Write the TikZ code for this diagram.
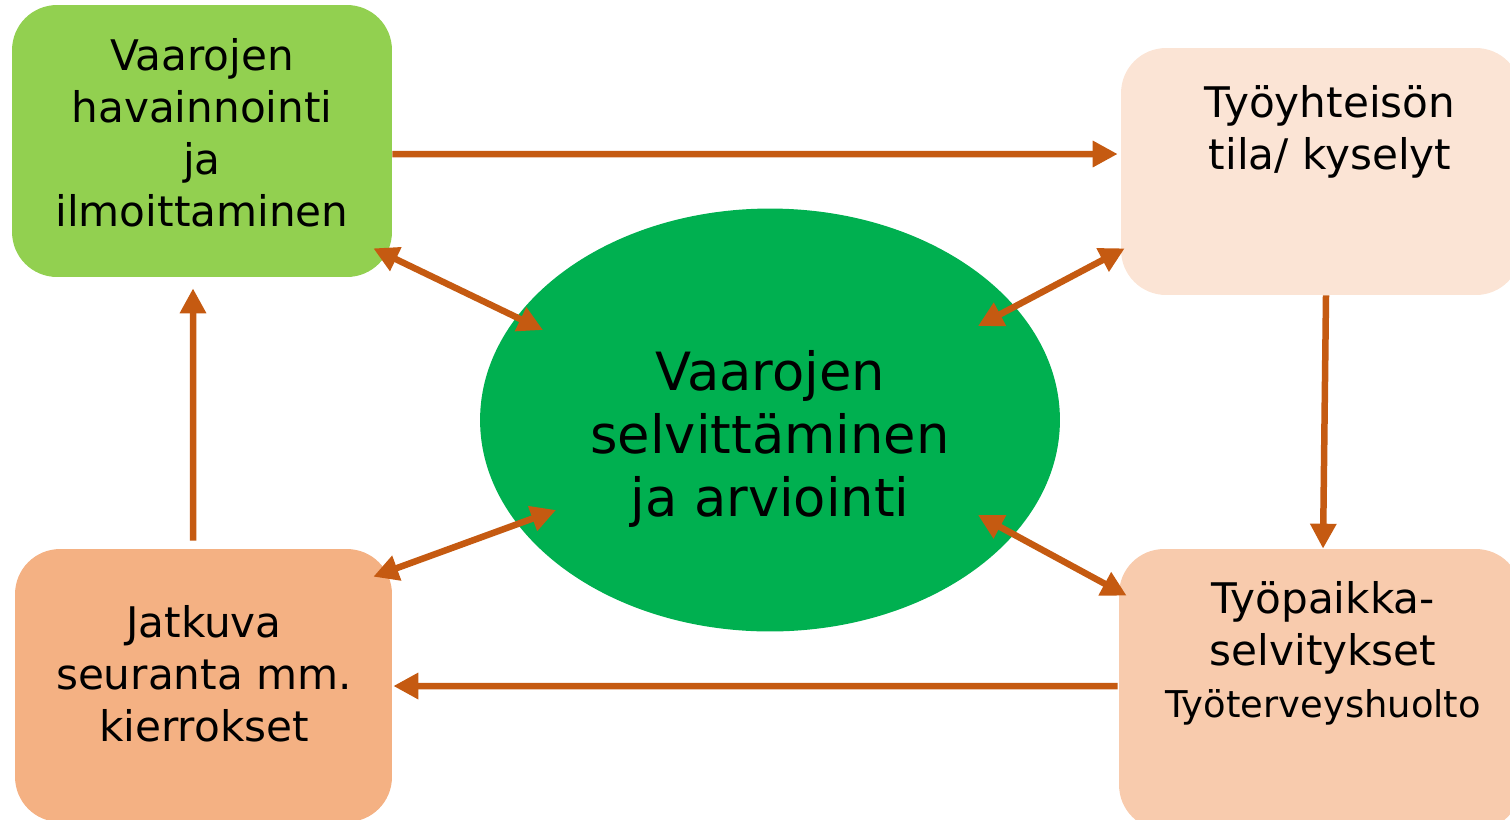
\documentclass[tikz,border=0pt]{standalone}
\usepackage{fontspec}
\setmainfont{DejaVu Sans}
\usetikzlibrary{arrows.meta,shapes.geometric}

\definecolor{nuoli}{HTML}{C55A11}
\definecolor{vihrea}{HTML}{92D050}
\definecolor{tummavihrea}{HTML}{00B050}
\definecolor{persikka}{HTML}{FBE4D5}
\definecolor{oranssi}{HTML}{F4B183}
\definecolor{vaalea}{HTML}{F8CBAD}

\tikzset{
    laatikko/.style={rectangle, rounded corners=0.9cm, inner sep=0pt},
    teksti/.style={align=center, font=\fontsize{24}{29.5}\selectfont},
    nuolet/.style={line width=0.13cm, nuoli, -{Triangle[length=0.5cm,width=0.5cm]}},
    kaksoisnuoli/.style={line width=0.13cm, nuoli, {Triangle[length=0.5cm,width=0.5cm]}-{Triangle[length=0.5cm,width=0.5cm]}}
}

\begin{document}
\begin{tikzpicture}[x=0.02cm, y=-0.02cm]
    \clip (0,0) rectangle (1510,819);

    % Boxes
    \node[laatikko, fill=vihrea, minimum width=7.6cm, minimum height=5.44cm] (havainto) at (202,141) {};
    \node[laatikko, fill=persikka, minimum width=8cm, minimum height=4.94cm] (tila) at (1321,171.5) {};
    \node[laatikko, fill=oranssi, minimum width=7.54cm, minimum height=5.46cm] (seuranta) at (203.5,685.5) {};
    \node[laatikko, fill=vaalea, minimum width=8.04cm, minimum height=5.62cm] (tyopaikka) at (1320,689.5) {};

    % Ellipse in the middle
    \node[ellipse, fill=tummavihrea, inner sep=0pt, minimum width=11.6cm, minimum height=8.46cm] (arvio) at (770,420) {};

    % Texts
    \node[teksti] (havaintoTeksti) at (202,133) {Vaarojen\\havainnointi\\ja\\ilmoittaminen};
    \node[teksti] (tilaTeksti) at (1330,132) {Työyhteisön\\tila/ kyselyt};
    \node[teksti] (seurantaTeksti) at (204,674) {Jatkuva\\seuranta mm.\\kierrokset};
    \node[teksti] (tyopaikkaTeksti) at (1323,653) {Työpaikka-\\selvitykset\\{\fontsize{21}{25}\selectfont Työterveyshuolto}};
    \node[align=center, font=\fontsize{30}{36}\selectfont] (arvioTeksti) at (770,439) {Vaarojen\\selvittäminen\\ja arviointi};

    % Cycle arrows
    \draw[nuolet] ([yshift=-0.26cm]havainto.east) -- ([yshift=0.35cm, xshift=-0.06cm]tila.west);
    \draw[nuolet] ([xshift=0.1cm]tila.south) -- ([xshift=0.06cm]tyopaikka.north);
    \draw[nuolet] ([yshift=0.07cm, xshift=-0.02cm]tyopaikka.west) -- ([yshift=-0.01cm, xshift=0.02cm]seuranta.east);
    \draw[nuolet] ([xshift=-0.21cm, yshift=0.16cm]seuranta.north) -- ([xshift=-0.18cm, yshift=-0.22cm]havainto.south);

    % Arrows to and from the ellipse
    \draw[kaksoisnuoli] ([shift={(-0.38cm,0.58cm)}]havainto.south east) -- ([shift={(-4.54cm,1.8cm)}]arvio.center);
    \draw[kaksoisnuoli] ([shift={(0.08cm,0.94cm)}]tila.south west) -- ([shift={(4.16cm,1.88cm)}]arvio.center);
    \draw[kaksoisnuoli] ([shift={(-0.38cm,-0.56cm)}]seuranta.north east) -- ([shift={(-4.28cm,-1.8cm)}]arvio.center);
    \draw[kaksoisnuoli] ([shift={(4.16cm,-1.9cm)}]arvio.center) -- ([shift={(0.16cm,-0.94cm)}]tyopaikka.north west);
\end{tikzpicture}
\end{document}
